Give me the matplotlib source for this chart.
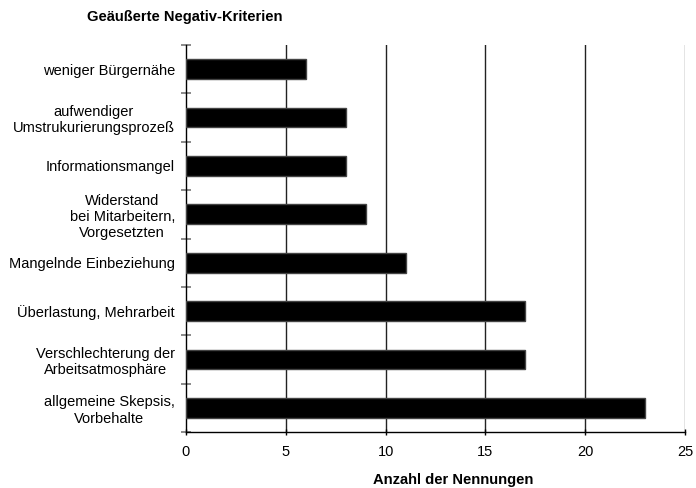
import matplotlib
matplotlib.use("Agg")
import matplotlib.pyplot as plt
import numpy as np

plt.rcParams['font.family'] = ['Liberation Sans', 'DejaVu Sans']

categories = [
    "weniger Bürgernähe",
    "aufwendiger\nUmstrukurierungsprozeß",
    "Informationsmangel",
    "Widerstand\nbei Mitarbeitern,\nVorgesetzten",
    "Mangelnde Einbeziehung",
    "Überlastung, Mehrarbeit",
    "Verschlechterung der\nArbeitsatmosphäre",
    "allgemeine Skepsis,\nVorbehalte",
]
counts = [6, 8, 8, 9, 11, 17, 17, 23]
x_ticks = [0, 5, 10, 15, 20, 25]

fig = plt.figure(figsize=(6.96, 4.88), dpi=100)
ax = fig.add_axes([186 / 696, 1 - 432 / 488, (685 - 186) / 696, (432 - 45) / 488])

y = np.arange(len(categories))
ax.barh(y, counts, height=0.41, color="black", edgecolor="#444444", linewidth=1.0, zorder=3)

ax.set_xlim(0, 25)
ax.set_ylim(len(categories) - 0.5, -0.5)
ax.set_xticks(x_ticks)
ax.set_xticklabels([str(t) for t in x_ticks], fontsize=10.5)
for t in x_ticks[1:]:
    ax.axvline(t, color="#222222" if t < 25 else "#777777", linewidth=1.0, zorder=1)

ax.set_yticks(y)
ax.set_yticklabels(categories, fontsize=10.5, ha="right", multialignment="center",
                   linespacing=1.2)
ax.tick_params(axis="y", which="major", length=0, pad=8)
ax.set_yticks(np.arange(-0.5, len(categories), 1.0), minor=True)
ax.tick_params(axis="y", which="minor", direction="inout", length=6.5, color="#777777", width=1.2)
ax.tick_params(axis="x", which="major", direction="inout", length=4.5, color="black", width=1.0, pad=7)

for s in ["top", "right"]:
    ax.spines[s].set_visible(False)
ax.spines["left"].set_color("black")
ax.spines["bottom"].set_color("black")
ax.spines["left"].set_linewidth(1.0)
ax.spines["bottom"].set_linewidth(1.0)

# axis title and chart title as free figure text
fig.text(453 / 696, 1 - 480 / 488, "Anzahl der Nennungen", fontsize=10.6,
         fontweight="bold", ha="center", va="center")
fig.text(87 / 696, 1 - 17 / 488, "Geäußerte Negativ-Kriterien", fontsize=10.6,
         fontweight="bold", ha="left", va="center")

fig.savefig("out.png", dpi=100)
